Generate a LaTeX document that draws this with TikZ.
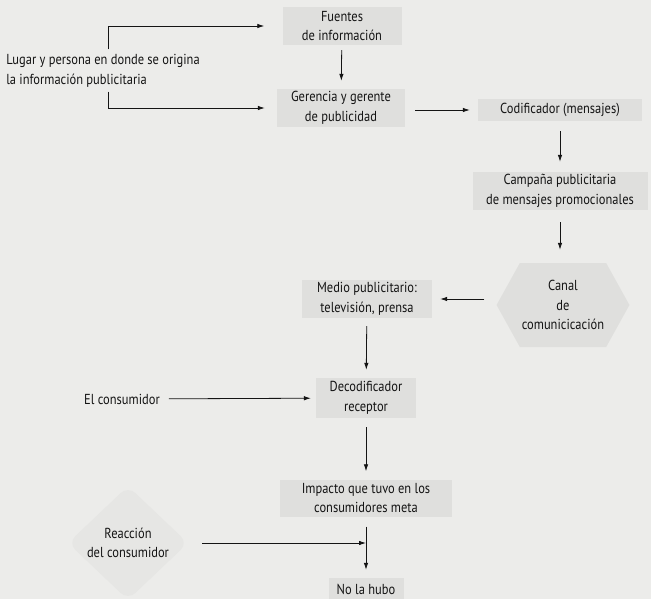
\documentclass[tikz,border=0pt]{standalone}
\usepackage{fontspec}
\setmainfont{PT Sans}[FakeStretch=0.86]
\usepackage{tikz}
\usetikzlibrary{arrows.meta,shapes.geometric,shapes.symbols}

\definecolor{paper}{RGB}{236,236,234}
\definecolor{boxfill}{RGB}{223,223,221}
\definecolor{softfill}{RGB}{230,230,228}
\definecolor{ink}{RGB}{20,20,20}

\begin{document}
\begin{tikzpicture}[
    x=1pt, y=-1pt,
    >={Latex[length=7pt,width=4.5pt]},
    every node/.style={font=\fontsize{14.5}{19.5}\selectfont, text=ink},
    box/.style={fill=boxfill,align=center,inner sep=2pt},
    plain/.style={align=left,inner sep=1pt},
    flow/.style={->,draw=ink,line width=0.8pt}
]
% page
\fill[paper] (0,0) rectangle (651,599);
\useasboundingbox (0,0) rectangle (651,599);

\node[plain] (src) at (103,71) {Lugar y persona en donde se origina\\la información publicitaria};
\node[box,minimum width=119pt,minimum height=38pt] (fuentes) at (342,26) {Fuentes\\de información};
\node[box,minimum width=128pt,minimum height=38pt] (gerencia) at (341,108) {Gerencia y gerente\\de publicidad};
\node[box,minimum width=164pt,minimum height=22pt] (codif) at (560,110) {Codificador (mensajes)};
\node[box,minimum width=175pt,minimum height=38pt] (campana) at (560,191) {Campaña publicitaria\\de mensajes promocionales};
\node[box,shape=signal,signal to=east and west,signal pointer angle=122,
      minimum width=128pt,minimum height=84pt] (canal) at (563,305) {Canal\\de\\comunicicación};
\node[box,minimum width=130pt,minimum height=38pt] (medio) at (367,299) {Medio publicitario:\\televisión, prensa};
\node[plain] (elcons) at (122,399) {El consumidor};
\node[box,minimum width=100pt,minimum height=40pt] (decod) at (366,398) {Decodificador\\receptor};
\node[box,minimum width=172pt,minimum height=37pt] (impacto) at (366,498) {Impacto que tuvo en los\\consumidores meta};
\node[shape=diamond,fill=softfill,rounded corners=10pt,align=center,inner sep=0pt,
      minimum width=120pt,minimum height=114pt] (reaccion) at (128,543) {Reacción\\del consumidor};
\node[box,minimum width=75pt,minimum height=22pt] (nohubo) at (366,589) {No la hubo};

% source splits to both boxes
\draw[flow,shorten >=18pt] ([xshift=5pt,yshift=4pt]src.north) |- (fuentes);
\draw[flow,shorten >=12pt] ([xshift=5pt,yshift=-3pt]src.south) |- (gerencia);

\draw[flow,shorten <=5pt,shorten >=8pt] (fuentes) -- (gerencia);
\draw[flow,shorten <=10pt,shorten >=8pt] (gerencia.east |- codif) -- (codif);
\draw[flow,shorten <=10pt,shorten >=10pt] (codif) -- (campana);
\draw[flow,shorten <=12pt,shorten >=13pt] (campana.south) -- (campana.south |- canal.north);
\draw[flow,shorten <=12pt,shorten >=8pt] (canal.west |- medio) -- (medio);
\draw[flow,shorten <=8pt,shorten >=8pt] (medio) -- (decod);
\draw[flow,shorten <=8pt,shorten >=5pt] (elcons) -- (decod);
\draw[flow,shorten <=9pt,shorten >=8pt] (decod) -- (impacto);
\draw[flow,shorten <=10pt,shorten >=8pt] (impacto) -- (nohubo);
\draw[flow,shorten <=14pt] (reaccion.east) -- (reaccion.east -| impacto.south);
\end{tikzpicture}
\end{document}
